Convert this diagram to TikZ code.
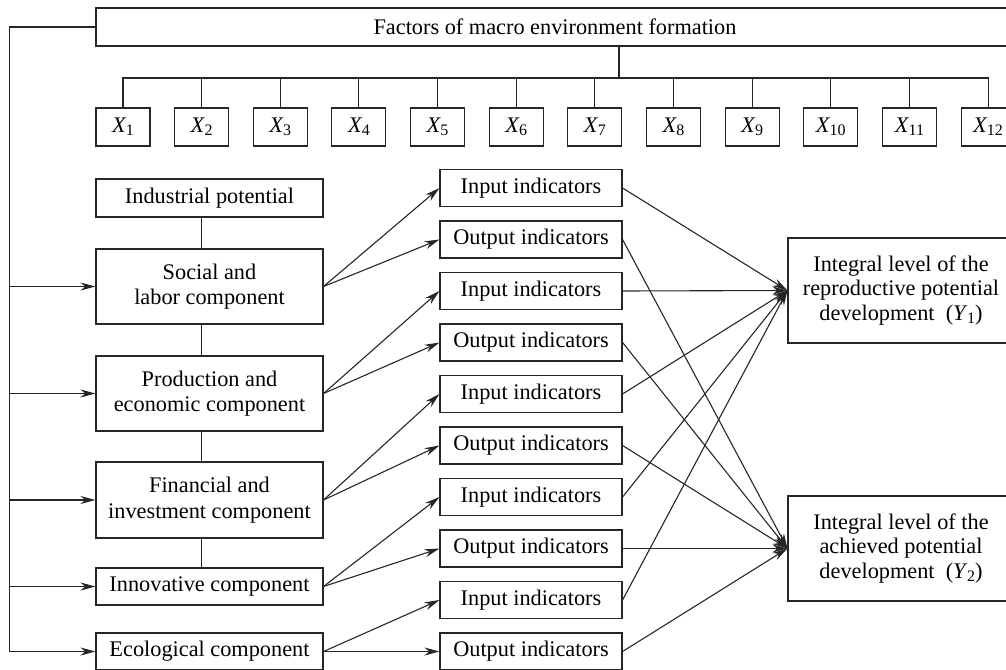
\documentclass[tikz,border=0pt]{standalone}
\usepackage{fontspec}
\setmainfont{Liberation Serif}
\usetikzlibrary{arrows.meta}
\newcommand\Xv[1]{\textit{X}\kern-0.5pt\raisebox{-0.28ex}{\fontsize{16}{16}\selectfont #1}}
\begin{document}
\begin{tikzpicture}[x=1pt,y=-1pt,
  every node/.style={font=\fontsize{22.3}{25.5}\selectfont},
  bx/.style={draw=black!85,line width=1.1pt,inner sep=0pt,align=center},
  comp/.style={bx,minimum width=227pt},
  ind/.style={bx,minimum width=182pt,minimum height=37pt},
  xb/.style={bx,minimum width=54pt,minimum height=38pt},
  ybox/.style={bx,minimum width=226pt,minimum height=105pt,font=\fontsize{22.3}{24.5}\selectfont},
  ln/.style={draw=black!85,line width=1.1pt},
  arr/.style={ln,-{Stealth[length=15pt,width=8pt]}}]
\useasboundingbox (0,0) rectangle (1006,669);
\clip (0,0) rectangle (1006,669);
% top
\node[bx,minimum width=918pt,minimum height=38pt] (top) at (555,27) {Factors of macro environment formation};
\foreach \i in {1,...,12}{
  \node[xb] (x\i) at ({123+(\i-1)*78.64},127) {\Xv{\i}};
}
\coordinate (bus) at (619,78);
\draw[ln] (top.south -| bus) -- (bus);
\draw[ln] (x1.north) |- (x12.north |- bus) -- (x12.north);
\foreach \i in {2,...,11}{\draw[ln] (x\i.north) -- (x\i.north |- bus);}
% components
\node[comp,minimum height=38pt] (indp) at (209.5,198) {Industrial potential};
\node[comp,minimum height=75pt] (soc) at (209.5,286.5) {Social and\\labor component};
\node[comp,minimum height=75pt] (prod) at (209.5,393.5) {Production and\\economic component};
\node[comp,minimum height=76pt] (fin) at (209.5,500) {Financial and\\investment component};
\node[comp,minimum height=37pt] (inn) at (209.5,586.5) {Innovative component};
\node[comp,minimum height=37pt] (eco) at (209.5,651.5) {Ecological component};
\draw[ln] ([xshift=-8pt]indp.south) -- ([xshift=-8pt]soc.north);
\draw[ln] ([xshift=-8pt]soc.south) -- ([xshift=-8pt]prod.north);
\draw[ln] ([xshift=-8pt]prod.south) -- ([xshift=-8pt]fin.north);
\draw[ln] ([xshift=-8pt]fin.south) -- ([xshift=-8pt]inn.north);
% left feed line
\coordinate (lt) at (9.5,27);
\coordinate (lb) at (9.5,651.5);
\draw[ln] (top.west) -- (lt) -- (lb);
\draw[arr] (lb) -- (eco.west);
\draw[arr] (soc.west -| lt) -- (soc.west);
\draw[arr] (prod.west -| lt) -- (prod.west);
\draw[arr] (fin.west -| lt) -- (fin.west);
\draw[arr] (inn.west -| lt) -- (inn.west);
% indicators
\foreach \k/\n/\t in {0/i1/Input,1/o1/Output,2/i2/Input,3/o2/Output,4/i3/Input,5/o3/Output,6/i4/Input,7/o4/Output,8/i5/Input,9/o5/Output}{
  \node[ind] (\n) at (531,{188+\k*51.5}) {\t{} indicators};
}
\foreach \c/\j in {soc/1,prod/2,fin/3,inn/4,eco/5}{
  \draw[arr] (\c.east) -- (i\j.west);
  \draw[arr] (\c.east) -- (o\j.west);
}
% results
\node[ybox] (y1) at (901,290.5) {Integral level of the\\reproductive potential\\development\ \ (\textit{Y}\kern-0.5pt\raisebox{-0.28ex}{\fontsize{16}{16}\selectfont 1})};
\node[ybox] (y2) at (901,548.5) {Integral level of the\\achieved potential\\development\ \ (\textit{Y}\kern-0.5pt\raisebox{-0.28ex}{\fontsize{16}{16}\selectfont 2})};
\foreach \j in {1,...,5}{
  \draw[arr] (i\j.east) -- (y1.west);
  \draw[arr] (o\j.east) -- (y2.west);
}
\end{tikzpicture}
\end{document}
